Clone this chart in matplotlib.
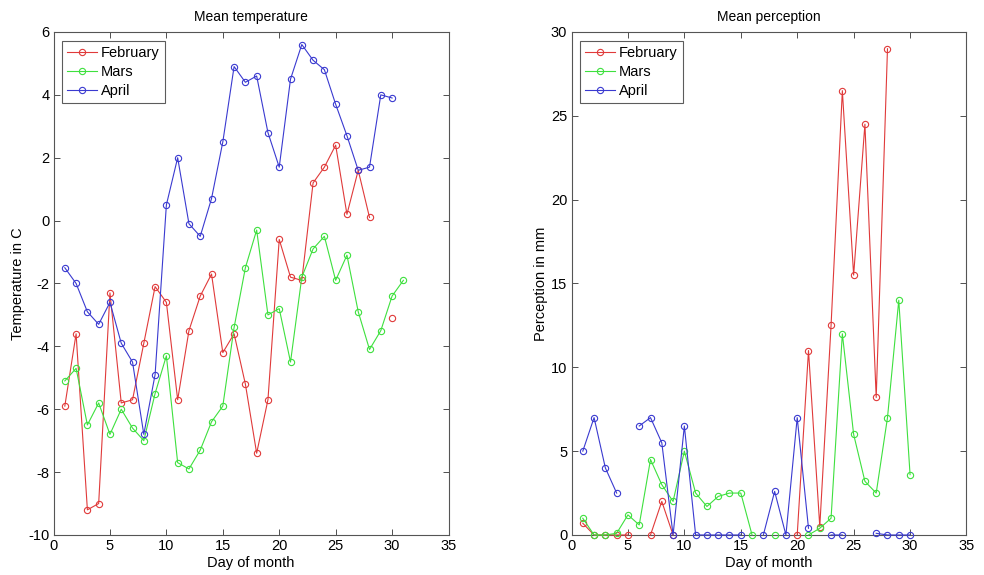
import numpy as np
import matplotlib
matplotlib.use('Agg')
import matplotlib.pyplot as plt

nan = np.nan

# mean temperature per day (C)
temp_feb = [-5.9, -3.6, -9.2, -9.0, -2.3, -5.8, -5.7, -3.9, -2.1, -2.6,
            -5.7, -3.5, -2.4, -1.7, -4.2, -3.6, -5.2, -7.4, -5.7, -0.6,
            -1.8, -1.9, 1.2, 1.7, 2.4, 0.2, 1.6, 0.1, nan, -3.1]
temp_mar = [-5.1, -4.7, -6.5, -5.8, -6.8, -6.0, -6.6, -7.0, -5.5, -4.3,
            -7.7, -7.9, -7.3, -6.4, -5.9, -3.4, -1.5, -0.3, -3.0, -2.8,
            -4.5, -1.8, -0.9, -0.5, -1.9, -1.1, -2.9, -4.1, -3.5, -2.4, -1.9]
temp_apr = [-1.5, -2.0, -2.9, -3.3, -2.6, -3.9, -4.5, -6.8, -4.9, 0.5,
            2.0, -0.1, -0.5, 0.7, 2.5, 4.9, 4.4, 4.6, 2.8, 1.7,
            4.5, 5.6, 5.1, 4.8, 3.7, 2.7, 1.6, 1.7, 4.0, 3.9]

# precipitation per day (mm)
prec_feb = [0.7, 0, 0, 0, 0, nan, 0, 2.0, 0, nan,
            nan, nan, nan, nan, nan, nan, nan, nan, nan, 0,
            11.0, 0.5, 12.5, 26.5, 15.5, 24.5, 8.2, 29.0, nan, nan]
prec_mar = [1.0, 0, 0, 0.1, 1.2, 0.6, 4.5, 3.0, 2.0, 5.0,
            2.5, 1.7, 2.3, 2.5, 2.5, 0, nan, 0, nan, nan,
            0, 0.4, 1.0, 12.0, 6.0, 3.2, 2.5, 7.0, 14.0, 3.6]
prec_apr = [5.0, 7.0, 4.0, 2.5, nan, 6.5, 7.0, 5.5, 0, 6.5,
            0, 0, 0, 0, 0, nan, 0, 2.6, 0, 7.0,
            0.4, nan, 0, 0, nan, nan, 0.1, 0, 0, 0]

labels = ['February', 'Mars', 'April']
colors = ['#e03a3a', '#3ee03e', '#3a3ad0']

plt.rcParams['font.family'] = ['Liberation Sans', 'DejaVu Sans']
plt.rcParams['font.size'] = 10
plt.rcParams['axes.unicode_minus'] = False

fig = plt.figure(figsize=(9.84, 5.75), dpi=100)
ax1 = fig.add_axes([0.0544, 0.0696, 0.4014, 0.8748])
ax2 = fig.add_axes([0.5808, 0.0696, 0.4014, 0.8748])


def draw(ax, series, title, ylabel, ylim, yticks):
    for s, lab, c in zip(series, labels, colors):
        days = np.arange(1, len(s) + 1)
        ax.plot(days, s, color=c, marker='o', markersize=4.5, markerfacecolor='none',
                markeredgewidth=0.8, linewidth=0.8, label=lab, clip_on=False, zorder=3)
    ax.set_xlim(0, 35)
    ax.set_ylim(*ylim)
    ax.set_xticks(np.arange(0, 36, 5))
    ax.set_yticks(yticks)
    ax.tick_params(direction='in', top=True, right=True, length=4, width=0.6,
                   color='#333333', labelsize=10.5, pad=3)
    for sp in ax.spines.values():
        sp.set_color('#555555')
        sp.set_linewidth(0.8)
    ax.set_title(title, fontsize=10, pad=8)
    ax.set_xlabel('Day of month', fontsize=10.5, labelpad=2)
    ax.set_ylabel(ylabel, fontsize=10.5, labelpad=2)
    leg = ax.legend(loc='upper left', fancybox=False, edgecolor='#333333',
                    fontsize=10.5, handlelength=2.0, borderpad=0.35,
                    labelspacing=0.35, handletextpad=0.3, borderaxespad=0.6)
    leg.get_frame().set_linewidth(0.8)


draw(ax1, [temp_feb, temp_mar, temp_apr], 'Mean temperature', 'Temperature in C',
     (-10, 6), np.arange(-10, 7, 2))
draw(ax2, [prec_feb, prec_mar, prec_apr], 'Mean perception', 'Perception in mm',
     (0, 30), np.arange(0, 31, 5))

fig.savefig('out.png', dpi=100)
